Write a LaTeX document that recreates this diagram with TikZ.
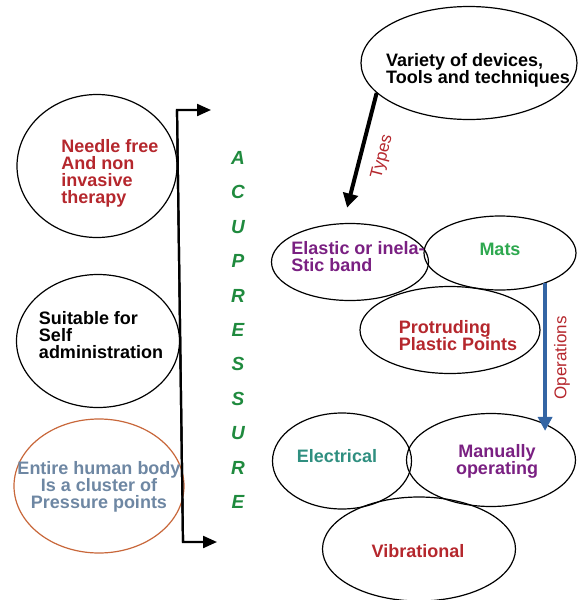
\documentclass[tikz,border=0pt]{standalone}
\usepackage{fontspec}
\setmainfont{Liberation Sans}
\usetikzlibrary{shapes.geometric, arrows.meta, calc}

\definecolor{redtxt}{HTML}{B5272D}
\definecolor{purpletxt}{HTML}{7A2082}
\definecolor{greentxt}{HTML}{2EA84F}
\definecolor{tealtxt}{HTML}{2F8F80}
\definecolor{graytxt}{HTML}{6E87A3}
\definecolor{acugreen}{HTML}{1F8A3E}
\definecolor{orangeline}{HTML}{C8673A}
\definecolor{bluearrow}{HTML}{3465A4}

\begin{document}
\begin{tikzpicture}[x=1pt, y=-1pt]
		\tikzstyle{oval} = [ellipse, draw=black, line width=1.2pt, inner sep=0]
		\tikzstyle{txt} = [font=\fontsize{18}{17}\selectfont\bfseries, inner sep=0, align=left]
		\tikzstyle{letter} = [font=\fontsize{19}{19}\selectfont\bfseries\itshape, text=acugreen, inner sep=0]
		\tikzstyle{tag} = [font=\fontsize{17}{17}\selectfont, text=redtxt, inner sep=0]

		\tikzstyle{bracket_line} = [-{Triangle[length=14pt, width=12pt]}, line width=2.2pt]
		\tikzstyle{types_line} = [-{Triangle[length=14pt, width=15pt]}, line width=4pt]
		\tikzstyle{ops_line} = [-{Triangle[length=14pt, width=14pt]}, line width=4.5pt, bluearrow]

		\useasboundingbox (0,0) rectangle (578,600);

		% Left ovals
		\node[oval, minimum width=160pt, minimum height=143pt](needle) at (97,166){};
		\node[txt, text=redtxt](needle_txt) at (110,173){Needle free\\And non\\invasive\\therapy};

		\node[oval, minimum width=163pt, minimum height=133pt](self) at (98,341){};
		\node[txt](self_txt) at (101,335){Suitable for\\Self\\administration};

		\node[oval, draw=orangeline, minimum width=170pt, minimum height=134pt](body) at (99,486){};
		\node[txt, text=graytxt, align=center](body_txt) at (99,487){Entire human body\\Is a cluster of\\Pressure points};

		% Bracket
		\coordinate (br_top) at (177,110);
		\coordinate (br_bot) at (183,542);
		\draw[bracket_line] (br_bot) -- (br_top) -- ++(34,0);
		\draw[bracket_line] (br_top) -- (br_bot) -- ++(34,0);

		% Acupressure
		\foreach \l [count=\i from 0] in {A,C,U,P,R,E,S,S,U,R,E} {
				\node[letter](acu_\i) at (238,{158+\i*34.4}){\l};
			};

		% Devices
		\node[oval, minimum width=216pt, minimum height=113pt](variety) at (469,63){};
		\node[txt](variety_txt) at (478,70){Variety of devices,\\Tools and techniques};

		\node[oval, minimum width=157pt, minimum height=77pt](elastic) at (350,262){};
		\node[oval, minimum width=152pt, minimum height=74pt](mats) at (500,253){};
		\node[oval, minimum width=180pt, minimum height=87pt](plastic) at (450,330){};
		\node[txt, text=purpletxt](elastic_txt) at (358,257){Elastic or inela-\\Stic band};
		\node[txt, text=greentxt](mats_txt) at (500,249){Mats};
		\node[txt, text=redtxt](plastic_txt) at (458,336){Protruding\\Plastic Points};

		% Operations
		\node[oval, minimum width=139pt, minimum height=96pt](electrical) at (342,461){};
		\node[oval, minimum width=169pt, minimum height=93pt](manual) at (491,460){};
		\node[oval, minimum width=193pt, minimum height=104pt](vibration) at (419,549){};
		\node[txt, text=tealtxt](electrical_txt) at (337,456){Electrical};
		\node[txt, text=purpletxt, align=center](manual_txt) at (497,461){Manually\\operating};
		\node[txt, text=redtxt](vibration_txt) at (418,551){Vibrational};

		% Arrows
		\draw[types_line, shorten >=16pt] (variety.198) -- (elastic.100) node[pos=0.45, sloped, below=12pt, tag](types_lbl){Types};
		\draw[ops_line, shorten >=-18pt] (mats.-34) -- (mats.-34 |- manual.north);
		\node[tag, rotate=90](ops_lbl) at (562,358){Operations};

	\end{tikzpicture}
\end{document}
